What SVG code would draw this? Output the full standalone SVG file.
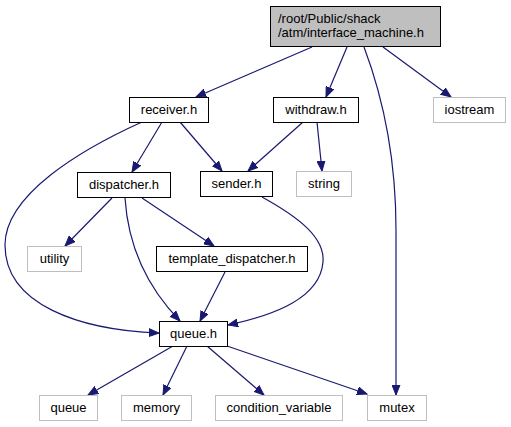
<svg xmlns="http://www.w3.org/2000/svg" width="511" height="427" viewBox="0 0 511 427">
<defs>
<style>
.n rect{fill:#ffffff;stroke:#000000;stroke-width:1}
.s rect{fill:#ffffff;stroke:#bfbfbf;stroke-width:1}
.r rect{fill:#bfbfbf;stroke:#000000;stroke-width:1}
text{font-family:"Liberation Sans",Arial,Helvetica,sans-serif;font-size:13px;fill:#000000}
.c{text-anchor:middle}
#edges path{fill:none;stroke:#191970;stroke-width:1.2;marker-end:url(#ah)}
</style>
<marker id="ah" markerUnits="userSpaceOnUse" markerWidth="11" markerHeight="9" refX="10" refY="4" orient="auto" viewBox="0 0 11 8">
<path d="M0,0 L10,4 L0,8 z" fill="#191970" stroke="#191970"/>
</marker>
</defs>
<rect width="511" height="427" fill="#ffffff"/>
<g id="edges">
<path d="M312,47 L196,97"/>
<path d="M347,47 L326,97"/>
<path d="M364,47 C384,100 396,160 396,230 L396,395"/>
<path d="M383,47 L451,97"/>
<path d="M162,122 L132,172"/>
<path d="M180,122 L222,171"/>
<path d="M142,122 C80,150 5,195 5,245 C5,305 80,330 159,333"/>
<path d="M303,122 L248,171"/>
<path d="M317,122 L322,171"/>
<path d="M112,198 L65,246"/>
<path d="M125,198 C128,245 145,285 180,321"/>
<path d="M142,198 L214,246"/>
<path d="M225,272 L200,321"/>
<path d="M262,197 C300,218 325,238 323,262 C320,298 275,315 228,325"/>
<path d="M173,346 L88,395"/>
<path d="M187,346 L163,395"/>
<path d="M207,346 L264,395"/>
<path d="M227,346 L367,394"/>
</g>
<g id="interface_machine" class="r"><rect x="270.5" y="6.5" width="170" height="40"/><text x="278" y="23">/root/Public/shack</text><text x="278" y="37">/atm/interface_machine.h</text></g>
<g id="receiver" class="n"><rect x="129.5" y="97.5" width="79" height="25"/><text class="c" x="169" y="114">receiver.h</text></g>
<g id="withdraw" class="n"><rect x="273.5" y="97.5" width="85" height="25"/><text class="c" x="316" y="114">withdraw.h</text></g>
<g id="iostream" class="s"><rect x="433.5" y="97.5" width="72" height="25"/><text class="c" x="469.5" y="114">iostream</text></g>
<g id="dispatcher" class="n"><rect x="77.5" y="172.5" width="93" height="25"/><text class="c" x="124" y="189">dispatcher.h</text></g>
<g id="sender" class="n"><rect x="200.5" y="171.5" width="72" height="25"/><text class="c" x="236.5" y="188">sender.h</text></g>
<g id="string" class="s"><rect x="296.5" y="171.5" width="55" height="25"/><text class="c" x="324" y="188">string</text></g>
<g id="utility" class="s"><rect x="27.5" y="246.5" width="54" height="25"/><text class="c" x="54.5" y="263">utility</text></g>
<g id="template_dispatcher" class="n"><rect x="156.5" y="246.5" width="151" height="25"/><text class="c" x="232" y="263">template_dispatcher.h</text></g>
<g id="queue_h" class="n"><rect x="159.5" y="321.5" width="68" height="25"/><text class="c" x="193.5" y="338">queue.h</text></g>
<g id="queue" class="s"><rect x="39.5" y="395.5" width="58" height="25"/><text class="c" x="68.5" y="412">queue</text></g>
<g id="memory" class="s"><rect x="121.5" y="395.5" width="70" height="25"/><text class="c" x="156.5" y="412">memory</text></g>
<g id="condition_variable" class="s"><rect x="215.5" y="395.5" width="127" height="25"/><text class="c" x="279" y="412">condition_variable</text></g>
<g id="mutex" class="s"><rect x="367.5" y="395.5" width="59" height="25"/><text class="c" x="397" y="412">mutex</text></g>
</svg>
